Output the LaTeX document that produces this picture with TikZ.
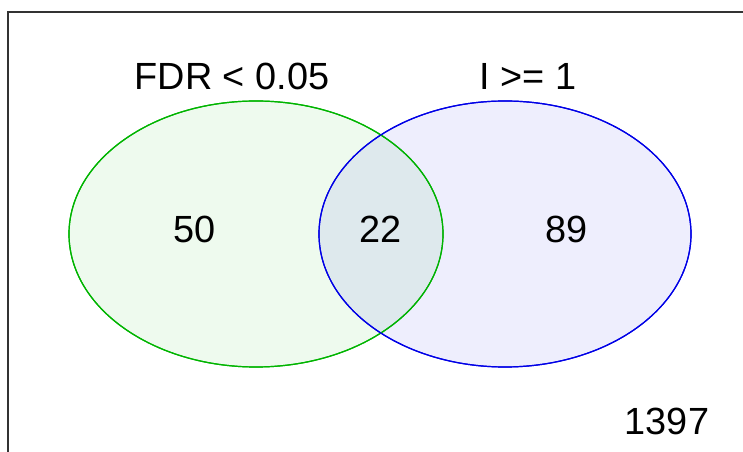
\documentclass[tikz,border=0pt]{standalone}
\usepackage{fontspec}
\setmainfont{Liberation Sans}
\begin{document}
\begin{tikzpicture}[x=0.75pt,y=-0.75pt,
  setA/.style={draw={rgb,255:red,0;green,180;blue,0}, line width=0.9pt,
    fill={rgb,255:red,0;green,180;blue,0}, fill opacity=0.065},
  setB/.style={draw={rgb,255:red,0;green,0;blue,230}, line width=0.9pt,
    fill={rgb,255:red,0;green,0;blue,230}, fill opacity=0.065},
  lbl/.style={font=\fontsize{28.4}{34}\selectfont, text=black, inner sep=0pt}]
  \useasboundingbox (0,0) rectangle (743,452);
  \begin{scope}
    \clip (0,0) rectangle (743,452);
    \draw[line width=1.2pt, black!80] (8,12) rectangle (760,470);
  \end{scope}
  % the two sets
  \path[setA] (256,234) ellipse [x radius=187, y radius=133];
  \path[setB] (505,234) ellipse [x radius=186, y radius=133];
  \draw[draw={rgb,255:red,0;green,180;blue,0}, line width=0.9pt] (256,234) ellipse [x radius=187, y radius=133];
  \draw[draw={rgb,255:red,0;green,0;blue,230}, line width=0.9pt] (505,234) ellipse [x radius=186, y radius=133];
  % titles and counts
  \node[lbl] (ta) at (232,76) {FDR < 0.05};
  \node[lbl] (tb) at (528,76) {I >= 1};
  \node[lbl] (na) at (195,229) {50};
  \node[lbl] (nab) at (381,229) {22};
  \node[lbl] (nb) at (567,229) {89};
  \node[lbl] (nn) at (667,421) {1397};
\end{tikzpicture}
\end{document}
